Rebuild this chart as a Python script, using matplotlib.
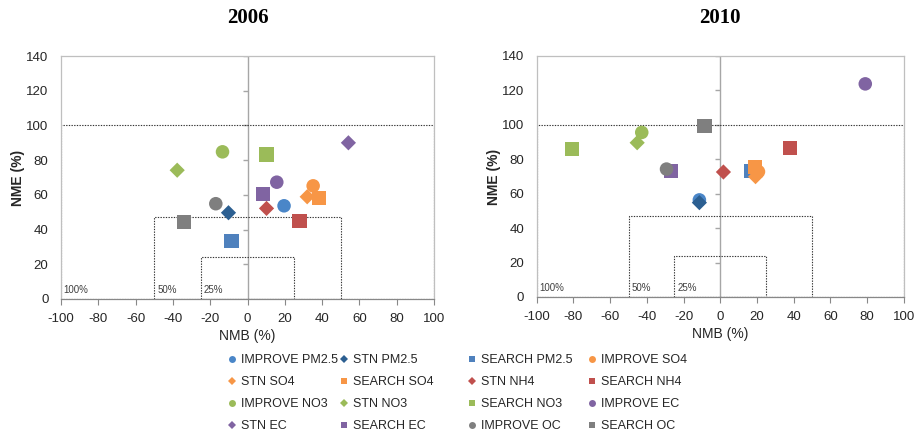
import numpy as np
import matplotlib
matplotlib.use("Agg")
import matplotlib.pyplot as plt
from matplotlib.lines import Line2D
from matplotlib.markers import TICKLEFT

plt.rcParams['font.family'] = ['Liberation Sans', 'DejaVu Sans']
plt.rcParams['axes.unicode_minus'] = False

series = ["IMPROVE PM2.5", "STN PM2.5", "SEARCH PM2.5", "IMPROVE SO4",
          "STN SO4", "SEARCH SO4", "STN NH4", "SEARCH NH4",
          "IMPROVE NO3", "STN NO3", "SEARCH NO3", "IMPROVE EC",
          "STN EC", "SEARCH EC", "IMPROVE OC", "SEARCH OC"]
markers = ['o', 'D', 's', 'o', 'D', 's', 'D', 's',
           'o', 'D', 's', 'o', 'D', 's', 'o', 's']
colors = ['#4A86C8', '#2C5F91', '#4F81BD', '#F79646',
          '#F79646', '#F79646', '#C0504D', '#C0504D',
          '#9BBB59', '#9BBB59', '#9BBB59', '#8064A2',
          '#8064A2', '#8064A2', '#7F7F7F', '#7F7F7F']

nmb_2006 = [19.6, -10.2, -8.6, 35.2, 32.0, 38.2, 10.2, 27.9,
            -13.4, -37.7, 10.2, 15.7, 54.1, 8.2, -17.0, -33.9]
nme_2006 = [53.7, 49.7, 33.4, 65.2, 58.9, 58.1, 52.2, 44.9,
            84.8, 74.2, 83.2, 67.3, 90.0, 60.4, 54.9, 44.5]
nmb_2010 = [-11.4, -11.4, 17.0, 20.8, 19.2, 18.8, 1.7, 38.0,
            -42.8, -45.3, -80.7, 79.0, np.nan, -26.8, -29.3, -8.6]
nme_2010 = [56.4, 54.8, 73.0, 72.8, 69.9, 75.7, 72.6, 86.5,
            95.6, 89.6, 85.9, 123.8, np.nan, 73.2, 74.3, 99.2]

# performance goal boxes: (half-width in NMB, NME height, label)
goals = [(100, 100, "100%"), (50, 47, "50%"), (25, 24, "25%")]

y_ticks = np.arange(0, 141, 20)
x_ticks = np.arange(-100, 101, 20)

marker_size = {'o': 95, 'D': 60, 's': 105}

W, H = 916, 437
fig = plt.figure(figsize=(W / 100, H / 100), dpi=100)
ax_l = fig.add_axes([0.0666, 0.3158, 0.4072, 0.556])
ax_r = fig.add_axes([0.586, 0.3204, 0.4007, 0.5515])


def draw_panel(ax, xs, ys, title):
    ax.set_xlim(-100, 100)
    ax.set_ylim(0, 140)
    for sp in ax.spines.values():
        sp.set_color('#BFBFBF')
        sp.set_linewidth(0.9)
    ax.spines['bottom'].set_color('#888888')

    # zero line acting as the value axis, with small tick marks to its left
    ax.axvline(0, color='#A6A6A6', lw=1.0, zorder=1)
    ax.plot(np.zeros(len(y_ticks) - 1), y_ticks[1:], ls='none',
            marker=TICKLEFT, ms=3.5, mew=1.0, color='#A6A6A6', zorder=1)

    ax.set_xticks(x_ticks)
    ax.set_yticks(y_ticks)
    ax.tick_params(axis='x', direction='out', length=4, color='#888888',
                   labelsize=9.5, labelcolor='#262626', pad=6)
    ax.tick_params(axis='y', length=0, labelsize=9.5, labelcolor='#262626',
                   pad=9)

    for half, height, lab in goals:
        ax.plot([-half, -half, half, half, -half],
                [0, height, height, 0, 0],
                color='#333333', lw=0.8, ls=(0, (1.2, 1.2)), zorder=2)
        ax.text(-half + 1.5, 2.5, lab, fontsize=7, color='#404040',
                ha='left', va='bottom', zorder=2)

    for x, y, m, c in zip(xs, ys, markers, colors):
        if np.isnan(x):
            continue
        ax.scatter([x], [y], marker=m, s=marker_size[m], color=c,
                   edgecolors='none', zorder=3, clip_on=False)

    ax.set_xlabel("NMB (%)", fontsize=10, color='#262626', labelpad=3)
    ax.set_ylabel("NME (%)", fontsize=10, fontweight='bold',
                  color='#262626', labelpad=1)
    ax.set_title(title, fontsize=15, fontweight='bold',
                 family=['Liberation Serif', 'DejaVu Serif'], pad=24)


draw_panel(ax_l, nmb_2006, nme_2006, "2006")
draw_panel(ax_r, nmb_2010, nme_2010, "2010")

# legend: four columns placed at fixed pixel positions, filled row by row
handles = [Line2D([], [], marker=m, color=c, ls='none',
                  markersize=5 if m != 'D' else 4.2, markeredgewidth=0)
           for m, c in zip(markers, colors)]
ncol = 4
col_px = [232, 344, 472, 592]
top_px = 354
fs = 9
half_handle_px = 0.6 * fs / 2 * 100 / 72
for c in range(ncol):
    idx = list(range(c, len(series), ncol))
    fig.legend([handles[i] for i in idx], [series[i] for i in idx],
               loc='upper left',
               bbox_to_anchor=((col_px[c] - half_handle_px) / W,
                               1 - top_px / H),
               frameon=False, fontsize=fs, handlelength=0.6,
               handletextpad=0.4, labelspacing=0.8, borderpad=0,
               borderaxespad=0, labelcolor='#262626')

fig.savefig("out.png", dpi=100)
